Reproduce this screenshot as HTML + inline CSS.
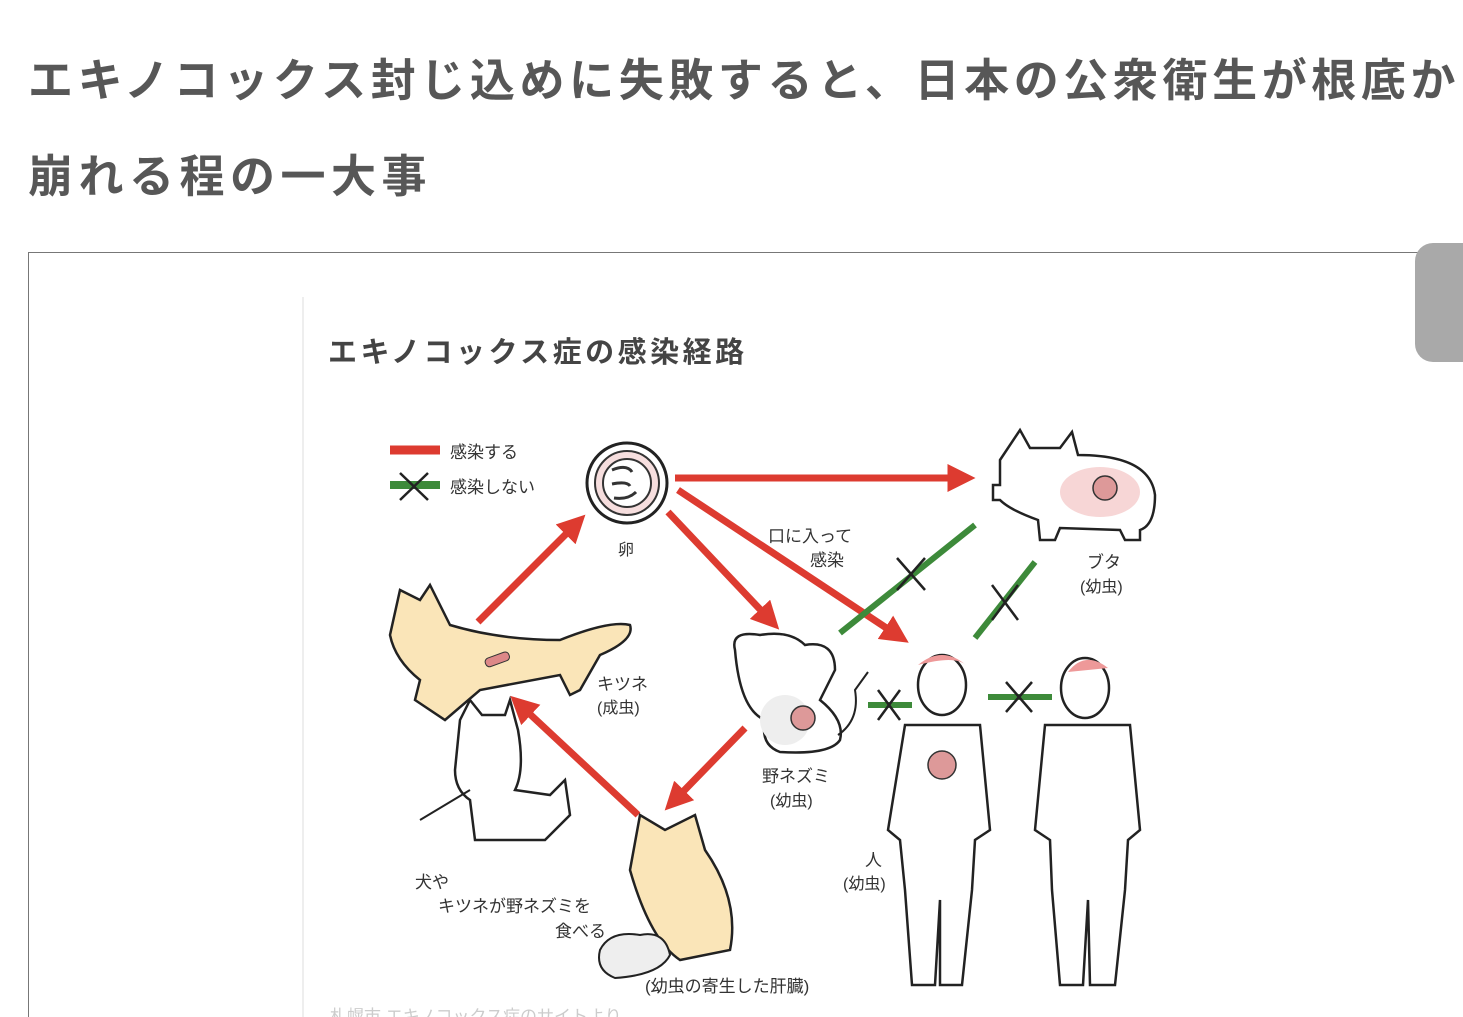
<!DOCTYPE html>
<html><head><meta charset="utf-8"><style>
html,body{margin:0;padding:0;background:#fff;width:1463px;height:1017px;overflow:hidden;position:relative;font-family:"Liberation Sans","Noto Sans CJK JP",sans-serif;}
.t{position:absolute;left:28px;font-size:45px;font-weight:bold;color:#575757;white-space:nowrap;letter-spacing:4.6px}
</style></head><body>
<div class="t" style="top:44px">エキノコックス封じ込めに失敗すると、日本の公衆衛生が根底か</div>
<div class="t" style="top:140px;letter-spacing:5.5px">崩れる程の一大事</div>
<div style="position:absolute;left:28px;top:252px;width:1500px;height:800px;border:1px solid #777;"></div>
<div style="position:absolute;left:1415px;top:243px;width:80px;height:119px;background:#a9a9a9;border-radius:18px"></div>
<div style="position:absolute;left:302px;top:297px;width:2px;height:720px;background:#eee"></div>
<svg style="position:absolute;left:0;top:0" width="1463" height="1017" font-family="Liberation Sans,Noto Sans CJK JP,sans-serif">
<defs><marker id="a" markerWidth="4" markerHeight="4" refX="2.5" refY="2" orient="auto"><path d="M0,0L4,2L0,4z" fill="#dd3b30"/></marker></defs>
<text x="328" y="362" font-size="29" font-weight="bold" fill="#444" letter-spacing="3.5">エキノコックス症の感染経路</text>
<line x1="390" y1="450" x2="440" y2="450" stroke="#dd3b30" stroke-width="9"/>
<line x1="390" y1="485" x2="440" y2="485" stroke="#3d8a3a" stroke-width="8"/>
<path d="M400,473L428,500M428,473L400,500" stroke="#222" stroke-width="2.5"/>
<text x="450" y="458" font-size="17" fill="#333">感染する</text>
<text x="450" y="493" font-size="17" fill="#333">感染しない</text>
<circle cx="627" cy="483" r="40" fill="#fff" stroke="#222" stroke-width="3"/>
<circle cx="627" cy="483" r="32" fill="#f6dede" stroke="#333" stroke-width="2"/>
<circle cx="627" cy="483" r="24" fill="#fff" stroke="#333" stroke-width="2"/>
<path d="M612,470q15,-6 20,2M612,484q15,-3 18,2M614,498q14,2 22,-6" stroke="#333" stroke-width="3" fill="none"/>
<g stroke="#dd3b30" stroke-width="7" fill="none" marker-end="url(#a)">
<line x1="478" y1="622" x2="578" y2="522"/>
<line x1="675" y1="478" x2="965" y2="478"/>
<line x1="668" y1="512" x2="772" y2="622"/>
<line x1="678" y1="490" x2="900" y2="637"/>
<line x1="745" y1="728" x2="672" y2="803"/>
<line x1="638" y1="815" x2="518" y2="703"/>
</g>
<g stroke="#3d8a3a" stroke-width="6">
<line x1="840" y1="633" x2="975" y2="525"/><line x1="975" y1="638" x2="1035" y2="562"/>
<line x1="868" y1="705" x2="912" y2="705"/><line x1="988" y1="697" x2="1052" y2="697"/>
</g>
<g stroke="#222" stroke-width="2.5">
<path d="M897,558L925,590M925,558L897,590M992,585L1018,620M1018,585L992,620M878,690L900,720M900,690L878,720M1006,682L1032,712M1032,682L1006,712"/>
</g>
<path d="M1000,460 L1020,430 L1030,448 L1060,448 L1072,432 L1078,455 Q1150,455 1155,495 Q1155,525 1140,530 L1140,540 L1125,540 L1120,530 L1060,528 L1055,540 L1040,540 L1038,520 Q1010,510 1000,500 L993,500 L993,485 L1000,485Z" fill="#fff" stroke="#222" stroke-width="2.5"/>
<ellipse cx="1100" cy="492" rx="40" ry="25" fill="#f7d6d6"/>
<circle cx="1105" cy="488" r="12" fill="#d99" stroke="#333" stroke-width="1.5"/>
<text x="1087" y="568" font-size="17" fill="#333">ブタ</text><text x="1080" y="592" font-size="16" fill="#333">(幼虫)</text>
<path d="M390,635 L400,590 L420,600 L430,585 L450,625 Q500,640 560,640 Q610,620 630,625 Q635,640 600,655 L580,690 L570,695 L560,675 L480,690 L445,720 L415,700 L420,680 Q395,660 390,635Z" fill="#fae5b8" stroke="#222" stroke-width="2.5"/>
<rect x="485" y="655" width="25" height="9" rx="4" fill="#d88" stroke="#333" transform="rotate(-20 497 660)"/>
<text x="597" y="690" font-size="17" fill="#333">キツネ</text><text x="597" y="713" font-size="16" fill="#333">(成虫)</text>
<path d="M460,720 L470,700 L482,715 L505,715 L510,700 L518,730 Q525,770 515,790 L550,795 L565,780 L570,815 L545,840 L475,840 L470,800 Q455,790 455,770Z" fill="#fff" stroke="#222" stroke-width="2.5"/>
<line x1="420" y1="820" x2="470" y2="790" stroke="#222" stroke-width="2"/>
<text x="415" y="888" font-size="17" fill="#333">犬や</text>
<text x="438" y="912" font-size="17" fill="#333">キツネが野ネズミを</text>
<text x="555" y="937" font-size="17" fill="#333">食べる</text>
<path d="M735,650 Q730,630 760,635 Q790,630 805,645 Q835,640 835,670 Q825,690 820,700 Q845,720 840,740 Q830,755 780,752 Q760,745 765,720 Q740,710 735,650Z" fill="#fff" stroke="#222" stroke-width="2.5"/>
<ellipse cx="785" cy="720" rx="25" ry="25" fill="#eee"/>
<circle cx="803" cy="718" r="12" fill="#d99" stroke="#333" stroke-width="1.5"/>
<path d="M838,735 Q860,720 855,690 L868,672" stroke="#222" stroke-width="2" fill="none"/>
<text x="762" y="782" font-size="17" fill="#333">野ネズミ</text><text x="770" y="806" font-size="16" fill="#333">(幼虫)</text>
<text x="768" y="542" font-size="17" fill="#333">口に入って</text><text x="810" y="566" font-size="17" fill="#333">感染</text>
<text x="618" y="555" font-size="16" fill="#333">卵</text>
<path d="M630,870 L640,815 L665,830 L695,815 L705,850 Q740,900 730,950 L680,960 Q650,940 630,870Z" fill="#fae5b8" stroke="#222" stroke-width="2.5"/>
<path d="M600,950 Q610,930 640,935 Q665,930 670,955 Q660,975 615,978 Q595,970 600,950Z" fill="#eee" stroke="#222" stroke-width="2"/>
<text x="645" y="992" font-size="17" fill="#333">(幼虫の寄生した肝臓)</text>
<g fill="#fff" stroke="#222" stroke-width="2.5">
<path d="M905,725 L980,725 L990,830 L975,840 L972,890 L962,985 L940,985 L940,900 L935,985 L912,985 L905,890 L900,840 L888,830Z"/>
<ellipse cx="942" cy="685" rx="24" ry="30"/>
<path d="M1045,725 L1130,725 L1140,830 L1128,840 L1125,890 L1115,985 L1090,985 L1088,900 L1083,985 L1060,985 L1052,890 L1050,840 L1035,830Z"/>
<ellipse cx="1085" cy="688" rx="24" ry="30"/>
</g>
<path d="M918,665 Q942,645 966,665 Q955,655 918,665Z" fill="#e99"/>
<path d="M1068,672 Q1085,650 1108,668 Z" fill="#e99"/>
<circle cx="942" cy="765" r="14" fill="#d99" stroke="#333" stroke-width="1.5"/>
<text x="865" y="866" font-size="17" fill="#333">人</text><text x="843" y="889" font-size="16" fill="#333">(幼虫)</text>
<text x="330" y="1022" font-size="17" fill="#ccc">札幌市 エキノコックス症のサイトより</text>
</svg>
</body></html>
